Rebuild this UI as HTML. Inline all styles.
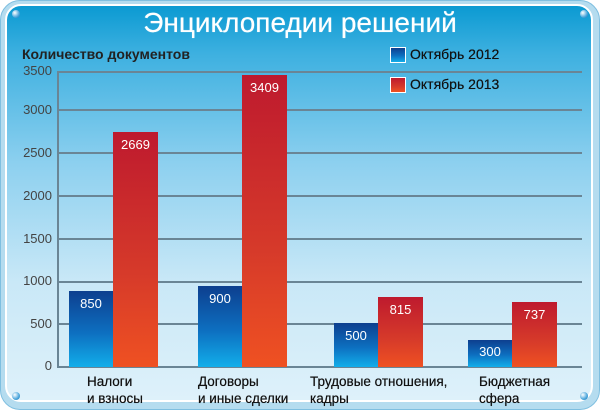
<!DOCTYPE html>
<html><head><meta charset="utf-8"><style>
body{margin:0;width:600px;height:410px;background:#fff;overflow:hidden;font-family:"Liberation Sans","DejaVu Sans",sans-serif}
.outer{position:absolute;left:0;top:0;width:598px;height:408px;border-radius:20px;background:#b5dcef;border:1px solid #7fbfe0}
.panel{position:absolute;left:5px;top:4px;width:588px;height:398px;border-radius:16px;background:linear-gradient(#0b9ad2 0%,#3db0e0 12%,#8dd0ef 40%,#c9e8f7 70%,#def1fa 100%);border:2px solid #fff;box-sizing:border-box}
.t{position:absolute;white-space:nowrap}
.bar{position:absolute}
.b{background:linear-gradient(#0d3f8f,#0d6fc0 55%,#12aeea)}
.r{background:linear-gradient(#be1a2e,#d63a2a 60%,#ef5122)}
.v{position:absolute;width:100%;text-align:center;color:#fff;font-size:13px;top:5px}
.g{position:absolute;left:58px;width:524px;height:2px;background:#6a8595}
.yl{position:absolute;left:18px;width:34px;text-align:right;font-size:13px;color:#444}
.xl{position:absolute;font-size:13.5px;line-height:17px;color:#111;white-space:nowrap;text-shadow:0 0 0.4px #111}
.dot{position:absolute;width:8px;height:8px;border-radius:50%;background:radial-gradient(circle at 35% 35%,#fff,#4aa6dc 60%,#1d6fae)}
</style></head><body>
<div class="outer"></div><div class="panel"></div>
<div class="dot" style="left:12px;top:10px"></div><div class="dot" style="left:580px;top:10px"></div>
<div class="dot" style="left:12px;top:392px"></div><div class="dot" style="left:580px;top:392px"></div>
<div class="t" style="left:0;width:600px;text-align:center;top:7px;font-size:28px;color:#fff;text-shadow:0 0 0.6px #fff">Энциклопедии решений</div>
<div class="t" style="left:22px;top:46px;font-size:14px;font-weight:bold;color:#222">Количество документов</div>
<div class="bar b" style="left:390px;top:47px;width:14px;height:14px;border:1px solid #fff"></div>
<div class="t" style="left:410px;top:46px;font-size:14px;color:#111;text-shadow:0 0 0.4px #111">Октябрь 2012</div>
<div class="bar r" style="left:390px;top:77px;width:14px;height:14px;border:1px solid #fff"></div>
<div class="t" style="left:410px;top:76px;font-size:14px;color:#111;text-shadow:0 0 0.4px #111">Октябрь 2013</div>

<div class="g" style="top:71px"></div><div class="g" style="top:109px"></div><div class="g" style="top:152px"></div>
<div class="g" style="top:195px"></div><div class="g" style="top:238px"></div><div class="g" style="top:281px"></div>
<div class="g" style="top:323px"></div><div class="g" style="top:366px"></div>
<div style="position:absolute;left:57px;top:71px;width:2px;height:297px;background:#6a8595"></div>
<div class="yl" style="top:63px">3500</div><div class="yl" style="top:102px">3000</div><div class="yl" style="top:145px">2500</div>
<div class="yl" style="top:188px">2000</div><div class="yl" style="top:231px">1500</div><div class="yl" style="top:273px">1000</div>
<div class="yl" style="top:316px">500</div><div class="yl" style="top:358px">0</div>

<div class="bar b" style="left:69px;top:291px;width:44px;height:76px"><div class="v">850</div></div>
<div class="bar r" style="left:113px;top:132px;width:45px;height:235px"><div class="v">2669</div></div>
<div class="bar b" style="left:198px;top:286px;width:44px;height:81px"><div class="v">900</div></div>
<div class="bar r" style="left:242px;top:75px;width:45px;height:292px"><div class="v">3409</div></div>
<div class="bar b" style="left:334px;top:323px;width:44px;height:44px"><div class="v">500</div></div>
<div class="bar r" style="left:378px;top:297px;width:45px;height:70px"><div class="v">815</div></div>
<div class="bar b" style="left:468px;top:340px;width:44px;height:27px"><div class="v" style="top:4px">300</div></div>
<div class="bar r" style="left:512px;top:302px;width:45px;height:65px"><div class="v">737</div></div>

<div class="xl" style="left:87px;top:373px">Налоги<br>и взносы</div>
<div class="xl" style="left:198px;top:373px">Договоры<br>и иные сделки</div>
<div class="xl" style="left:310px;top:373px">Трудовые отношения,<br>кадры</div>
<div class="xl" style="left:479px;top:373px">Бюджетная<br>сфера</div>
</body></html>
